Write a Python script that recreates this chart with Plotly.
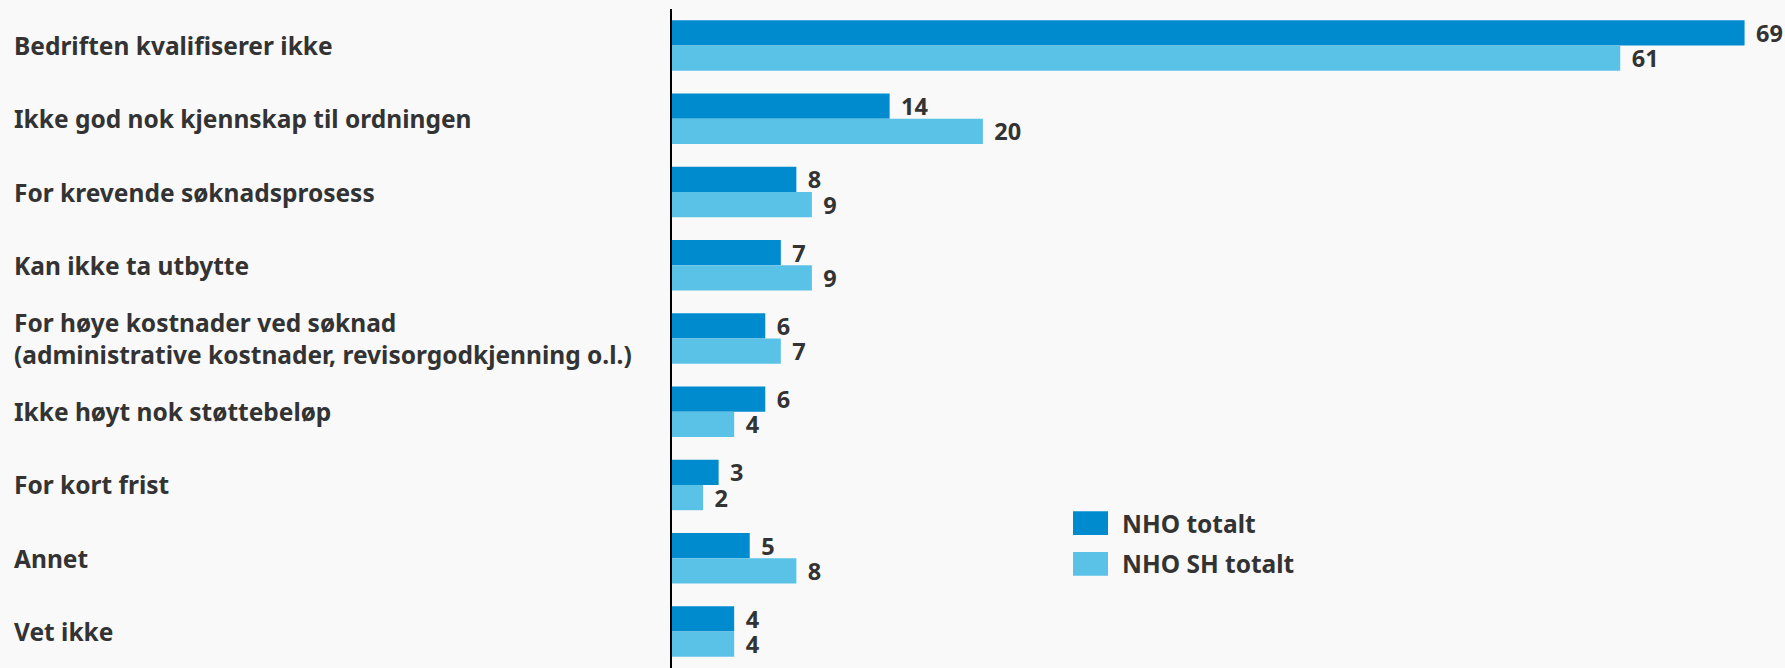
import plotly.graph_objects as go

categories = [
    "Bedriften kvalifiserer ikke",
    "Ikke god nok kjennskap til ordningen",
    "For krevende søknadsprosess",
    "Kan ikke ta utbytte",
    "For høye kostnader ved søknad<br>(administrative kostnader, revisorgodkjenning o.l.)",
    "Ikke høyt nok støttebeløp",
    "For kort frist",
    "Annet",
    "Vet ikke",
]
nho_totalt = [69, 14, 8, 7, 6, 6, 3, 5, 4]
nho_sh_totalt = [61, 20, 9, 9, 7, 4, 2, 8, 4]
series_names = ["NHO totalt", "NHO SH totalt"]
colors = ["#008BCE", "#5BC2E7"]

W, H = 1785, 668
FONT = "Noto Sans"
TXT = "#333333"
BG = "#F9F9F9"
LBL_SIZE = 24.5
VAL_SIZE = 23.5

fig = go.Figure()
for name, vals, col in zip(series_names, [nho_totalt, nho_sh_totalt], colors):
    fig.add_trace(go.Bar(
        y=categories, x=vals, orientation="h", name=name,
        marker=dict(color=col, line=dict(width=0)),
        text=vals, texttemplate="\u00a0\u200a%{x}", textposition="outside",
        constraintext="none", cliponaxis=False,
        textfont=dict(family=FONT, size=VAL_SIZE, color=TXT, weight="bold"),
        showlegend=False, hoverinfo="skip",
    ))

x0 = 672 / W
fig.update_layout(
    width=W, height=H,
    paper_bgcolor=BG, plot_bgcolor=BG,
    margin=dict(l=0, r=0, t=9, b=0),
    barmode="group", bargap=0.31, bargroupgap=0,
    font=dict(family=FONT, color=TXT),
    xaxis=dict(domain=[x0, 1], range=[0, 71.6], visible=False),
    yaxis=dict(autorange="reversed", showticklabels=False, showgrid=False,
               zeroline=False, showline=True, linecolor="black", linewidth=2,
               ticks=""),
)

# category labels, left aligned
for c in categories:
    fig.add_annotation(xref="paper", yref="y", x=12 / W, y=c, text=c,
                       xanchor="left", yanchor="middle", align="left",
                       showarrow=False,
                       font=dict(family=FONT, size=LBL_SIZE, color=TXT, weight="bold"))

# custom legend
leg_y = [0.22, 0.158]
for name, col, yy in zip(series_names, colors, leg_y):
    fig.add_shape(type="rect", xref="paper", yref="paper",
                  x0=1073 / W, x1=1108 / W, y0=yy - 0.018, y1=yy + 0.018,
                  fillcolor=col, line=dict(width=0))
    fig.add_annotation(xref="paper", yref="paper", x=1120 / W, y=yy, text=name,
                       xanchor="left", yanchor="middle", showarrow=False,
                       font=dict(family=FONT, size=LBL_SIZE, color=TXT, weight="bold"))

fig.write_html("out.html",
               config={"displayModeBar": False},
               post_script="document.body.style.margin='0';"
                           "document.body.style.overflow='hidden';")
